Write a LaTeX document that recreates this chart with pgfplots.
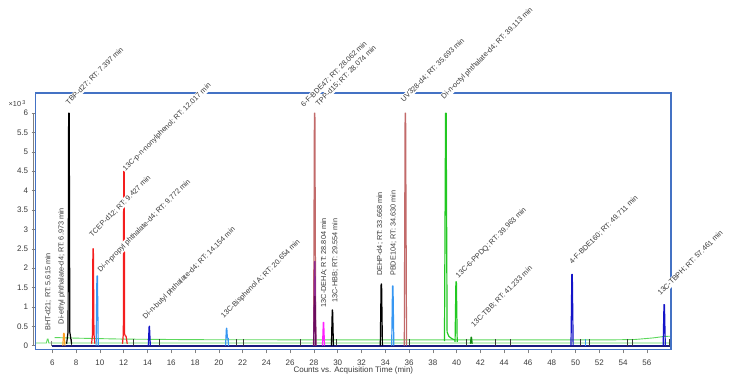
\documentclass[border=0pt]{standalone}
\usepackage{fontspec}
\setmainfont{Liberation Sans}
\usepackage{pgfplots}
\pgfplotsset{compat=1.18}
\definecolor{frameblue}{HTML}{4472C4}
\definecolor{navy}{HTML}{1A1A80}
\definecolor{grn}{HTML}{22C822}
\definecolor{lgrn}{HTML}{5CD85C}
\definecolor{dgrn}{HTML}{128A12}
\definecolor{redp}{HTML}{F41E1E}
\definecolor{lblue}{HTML}{3797F2}
\definecolor{dblue}{HTML}{1414C8}
\definecolor{rosy}{HTML}{C26A6A}
\definecolor{purp}{HTML}{8E2A8E}
\definecolor{dpurp}{HTML}{6A0C5E}
\definecolor{mag}{HTML}{FF22FF}
\definecolor{orng}{HTML}{FFA024}
\definecolor{txt}{HTML}{3A3A3A}
\tikzset{lab/.style={font=\fontsize{7.3}{8}\selectfont, text=txt, fill=white, inner sep=0.7pt}}
\pgfplotsset{pk/.style={line width=1.2pt, line join=round, no marks}}
\begin{document}
\begin{tikzpicture}[x=1pt,y=1pt]
\useasboundingbox (0,0) rectangle (750,375);
\begin{axis}[
  at={(35.7pt,25.7pt)}, anchor=south west,
  scale only axis, width=635.3pt, height=256.3pt,
  xmin=4.6, xmax=58.03, ymin=-0.093, ymax=6.52,
  axis line style={draw=none},
  clip=false,
  xtick={6,8,...,56}, ytick={0,0.5,...,6},
  xtick pos=left, ytick pos=left,
  tick align=outside,
  major tick length=4pt,
  every tick/.style={gray, line width=0.6pt},
  tick label style={font=\fontsize{8}{9}\selectfont, text=txt},
  xticklabel shift=3.5pt,
  /pgf/number format/assume math mode=true,
]
% baselines
\addplot[lgrn, line width=0.9pt, no marks] coordinates {(4.6,0.07)(5.5,0.07)(5.58,0.17)(5.64,0.17)(5.7,0.07)(58.03,0.07)};
\addplot[lgrn, line width=0.9pt, no marks] coordinates {(6.2,0.21)(8,0.195)(12,0.17)(18,0.155)(30,0.15)(45,0.15)(53,0.15)(55,0.16)(56.5,0.2)(57.5,0.24)(58.03,0.245)};
\addplot[navy, line width=1.2pt, no marks] coordinates {(6.0,-0.01)(58.03,-0.01)};
% integration markers
\addplot[ycomb, txt, line width=0.8pt, no marks] coordinates {(7.63,0.16)(12.82,0.16)(15.0,0.16)(21.45,0.16)(22.06,0.16)(26.9,0.16)(29.86,0.16)(34.49,0.16)(36.0,0.16)(40.8,0.16)(43.3,0.16)(44.5,0.16)(50.44,0.16)(51.14,0.16)(54.36,0.16)(54.78,0.16)(57.9,0.16)};
\addplot[ycomb, gray, line width=0.8pt, no marks] coordinates {(5.95,0.12)};
\addplot[ycomb, lblue, line width=0.8pt, no marks] coordinates {(50.8,0.16)(20.8,0.2)};
% peaks
\addplot[pk, orng] coordinates {(6.88,0)(6.95,0.32)(6.99,0.32)(7.06,0)};
\addplot[pk, black] coordinates {(7.2,0.05)(7.32,0.35)(7.37,6.0)(7.42,6.0)(7.47,0.35)(7.62,0.05)};
\addplot[pk, redp] coordinates {(9.3,0.05)(9.38,0.3)(9.41,2.5)(9.45,2.5)(9.5,0.3)(9.58,0.05)};
\addplot[pk, lblue] coordinates {(9.68,0)(9.75,1.8)(9.79,1.8)(9.86,0)};
\addplot[pk, redp] coordinates {(11.9,0.05)(11.97,0.3)(12.0,4.5)(12.04,4.5)(12.08,0.3)(12.14,0.25)(12.2,0.25)(12.3,0.05)};
\addplot[pk, dblue] coordinates {(14.07,0)(14.14,0.5)(14.17,0.5)(14.24,0)};
\addplot[pk, lblue] coordinates {(20.57,0)(20.64,0.45)(20.67,0.45)(20.72,0.2)(20.76,0.2)(20.82,0)};
\addplot[pk, rosy] coordinates {(27.97,0)(28.04,6.0)(28.08,6.0)(28.15,0)};
\addplot[pk, purp] coordinates {(27.98,0)(28.05,2.17)(28.09,2.17)(28.16,0)};
\addplot[pk, dpurp] coordinates {(27.98,0)(28.05,1.27)(28.09,1.27)(28.16,0)};
\addplot[pk, mag] coordinates {(28.72,0)(28.79,0.6)(28.82,0.6)(28.89,0)};
\addplot[pk, black] coordinates {(29.47,0)(29.54,0.92)(29.57,0.92)(29.64,0)};
\addplot[pk, black] coordinates {(33.58,0)(33.65,1.59)(33.69,1.59)(33.76,0)};
\addplot[pk, lblue] coordinates {(34.54,0)(34.61,1.54)(34.65,1.54)(34.72,0)};
\addplot[pk, rosy] coordinates {(35.6,0)(35.67,6.0)(35.71,6.0)(35.79,0)};
\addplot[pk, grn] coordinates {(38.98,0.12)(39.07,6.0)(39.12,6.0)(39.2,0.35)(39.35,0.24)(39.6,0.18)(39.85,0.15)};
\addplot[pk, grn] coordinates {(39.87,0.1)(39.94,1.65)(39.98,1.65)(40.05,0.1)};
\addplot[pk, dgrn] coordinates {(41.16,0.05)(41.22,0.22)(41.25,0.22)(41.31,0.05)};
\addplot[pk, dblue] coordinates {(49.62,0)(49.69,1.84)(49.73,1.84)(49.8,0)};
\addplot[pk, dblue] coordinates {(57.37,0)(57.44,1.06)(57.48,1.06)(57.55,0)};
% frame
\draw[frameblue, line width=1.3pt] (rel axis cs:0,0) rectangle (rel axis cs:1,1);
\draw[gray, line width=0.6pt] ([xshift=-2pt]axis cs:4.6,0) -- ([xshift=-2pt]axis cs:4.6,6);
% multiplier
\node[anchor=base east, font=\fontsize{7.3}{8}\selectfont, text=txt, inner sep=0pt] at (axis cs:3.75,6.16) {×10\,\raisebox{2.5pt}{\fontsize{5.5}{6}\selectfont 3}};
% x label
\node[anchor=base, font=\fontsize{8}{9}\selectfont, text=txt] at ([yshift=-23.5pt]rel axis cs:0.5,0) {Counts vs. Acquisition Time (min)};
% peak labels (45 degrees)
\node[lab, rotate=45, anchor=base west] at (axis cs:7.33,6.19) {TBP-d27; RT: 7.397 min};
\node[lab, rotate=45, anchor=base west] at (axis cs:12.11,4.48) {13C-p-n-nonylphenol; RT: 12.017 min};
\node[lab, rotate=45, anchor=base west] at (axis cs:9.31,2.78) {TCEP-d12; RT: 9.427 min};
\node[lab, rotate=45, anchor=base west] at (axis cs:10.01,1.88) {Di-n-propyl phthalate-d4; RT: 9.772 min};
\node[lab, rotate=45, anchor=base west] at (axis cs:13.80,0.66) {Di-n-butyl phthalate-d4; RT: 14.154 min};
\node[lab, rotate=45, anchor=base west] at (axis cs:20.38,0.68) {13C-Bisphenol A; RT: 20.654 min};
\node[lab, rotate=45, anchor=base west] at (axis cs:27.11,6.13) {6-F-BDE47; RT: 28.062 min};
\node[lab, rotate=45, anchor=base west] at (axis cs:28.35,6.16) {TPP-d15; RT: 28.074 min};
\node[lab, rotate=45, anchor=base west] at (axis cs:35.52,6.27) {UV328-d4; RT: 35.693 min};
\node[lab, rotate=45, anchor=base west] at (axis cs:38.89,6.34) {Di-n-octyl phthalate-d4; RT: 39.113 min};
\node[lab, rotate=45, anchor=base west] at (axis cs:40.12,1.72) {13C-6-PPDQ; RT: 39.963 min};
\node[lab, rotate=45, anchor=base west] at (axis cs:41.41,0.45) {13C-TBB; RT: 41.233 min};
\node[lab, rotate=45, anchor=base west] at (axis cs:49.68,2.08) {4-F-BDE160; RT: 49.711 min};
\node[lab, rotate=45, anchor=base west] at (axis cs:57.11,1.27) {13C-TBPH; RT: 57.461 min};
% vertical labels
\node[lab, rotate=90, anchor=west] at (axis cs:5.66,0.36) {BHT-d21; RT: 5.615 min};
\node[lab, rotate=90, anchor=west] at (axis cs:6.79,0.53) {Di-ethyl phthalate-d4; RT: 6.973 min};
\node[lab, rotate=90, anchor=west] at (axis cs:28.85,0.97) {13C-DEHA; RT: 28.804 min};
\node[lab, rotate=90, anchor=west] at (axis cs:29.78,1.09) {13C-HBB; RT: 29.554 min};
\node[lab, rotate=90, anchor=west] at (axis cs:33.56,1.78) {DEHP-d4; RT: 33.668 min};
\node[lab, rotate=90, anchor=west] at (axis cs:34.68,1.78) {PBDE104; RT: 34.630 min};
\end{axis}
\end{tikzpicture}
\end{document}
